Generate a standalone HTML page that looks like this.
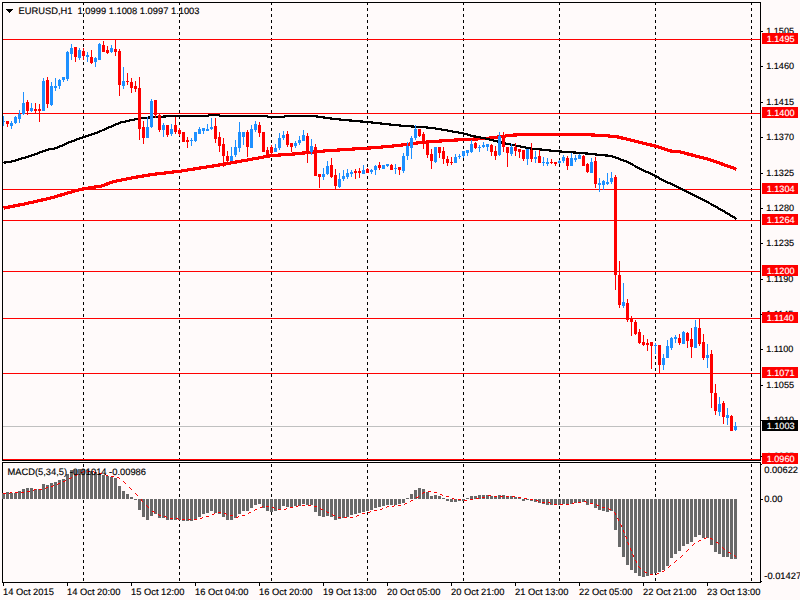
<!DOCTYPE html>
<html><head><meta charset="utf-8"><title>EURUSD,H1</title>
<style>html,body{margin:0;padding:0;background:#FFFAFA;overflow:hidden}svg{display:block}</style>
</head><body>
<svg width="800" height="600" viewBox="0 0 800 600" shape-rendering="crispEdges">
<rect x="0" y="0" width="800" height="600" fill="#FFFAFA"/>
<path d="M83.5 2V460M179.5 2V460M271.5 2V460M367.5 2V460M463.5 2V460M559.5 2V460M655.5 2V460M751.5 2V460" stroke="#000" stroke-width="1" stroke-dasharray="3 3" fill="none"/>
<path d="M83.5 464V582M179.5 464V582M271.5 464V582M367.5 464V582M463.5 464V582M559.5 464V582M655.5 464V582M751.5 464V582" stroke="#000" stroke-width="1" stroke-dasharray="3 3" fill="none"/>
<rect x="3" y="426" width="757" height="1" fill="#C0C0C0"/>
<rect x="3" y="39" width="757" height="1" fill="#FF0000"/>
<rect x="3" y="113" width="757" height="1" fill="#FF0000"/>
<rect x="3" y="189" width="757" height="1" fill="#FF0000"/>
<rect x="3" y="220" width="757" height="1" fill="#FF0000"/>
<rect x="3" y="271" width="757" height="1" fill="#FF0000"/>
<rect x="3" y="318" width="757" height="1" fill="#FF0000"/>
<rect x="3" y="373" width="757" height="1" fill="#FF0000"/>
<rect x="3" y="459" width="757" height="1" fill="#FF0000"/>
<polyline points="3.5,208.1 25.5,203.75 50.5,198.1 63.0,194.4 80.5,189.4 95.5,186.9 100.5,186.5 112.5,181.9 134.0,177.5 152.5,174.4 180.0,171.25 196.5,168.6 223.5,164.3 271.5,155.6 292.5,154.1 326.0,150.8 368.0,148.1 388.5,146.5 400.5,145.2 422.0,142.4 440.5,141 464.0,139.5 484.5,138.6 499.25,136.9 510.5,135.25 526.5,134.4 580.5,134.4 605.25,135.6 617.5,136.9 639.0,142.1 656.0,146.25 664.5,149 670.25,151 679.5,151.8 709.5,159.5 736.5,169.2" fill="none" stroke="#FF0000" stroke-width="3.2" stroke-linejoin="round"/>
<polyline points="3.5,162.75 13.0,161.25 31.5,155.6 47.5,149.75 56.5,148.1 68.0,142.75 83.5,137 96.5,132.9 120.5,122.5 138.0,118.75 144.5,118 148.5,117.5 156.5,117 164.5,116.5 170.5,116 207.5,116 209.0,115.1 219.0,115.1 220.5,116 266.5,116 268.0,116.9 284.0,116.9 285.5,116 313.5,116 320.5,117 335.5,119.1 351.5,120.6 368.0,122.1 388.5,124.3 400.5,125.6 412.5,126.5 424.5,127.2 435.5,128.5 447.5,130.5 464.0,133.6 472.5,136 484.5,138.3 505.5,143.5 530.5,148.5 560.0,151.5 580.5,152.9 595.25,154.4 611.5,156 626.5,161.6 641.5,169.4 656.0,176.25 666.5,182.2 672.0,184.2 682.5,189.5 706.5,201.5 724.5,211.7 736.5,218.9" fill="none" stroke="#000" stroke-width="2.2" stroke-linejoin="round"/>
<rect x="3" y="116" width="1" height="10" fill="#1E90FF"/>
<rect x="2" y="121" width="3" height="1" fill="#1E90FF"/>
<rect x="7" y="121" width="1" height="6" fill="#FF0000"/>
<rect x="6" y="121" width="3" height="3" fill="#FF0000"/>
<rect x="11" y="121" width="1" height="8" fill="#1E90FF"/>
<rect x="10" y="123" width="3" height="3" fill="#1E90FF"/>
<rect x="15" y="116" width="1" height="8" fill="#1E90FF"/>
<rect x="14" y="117" width="3" height="6" fill="#1E90FF"/>
<rect x="19" y="110" width="1" height="13" fill="#1E90FF"/>
<rect x="18" y="114" width="3" height="5" fill="#1E90FF"/>
<rect x="23" y="92" width="1" height="23" fill="#1E90FF"/>
<rect x="22" y="103" width="3" height="11" fill="#1E90FF"/>
<rect x="27" y="100" width="1" height="15" fill="#FF0000"/>
<rect x="26" y="102" width="3" height="9" fill="#FF0000"/>
<rect x="31" y="103" width="1" height="9" fill="#1E90FF"/>
<rect x="30" y="108" width="3" height="3" fill="#1E90FF"/>
<rect x="35" y="103" width="1" height="11" fill="#FF0000"/>
<rect x="34" y="109" width="3" height="2" fill="#FF0000"/>
<rect x="39" y="104" width="1" height="18" fill="#FF0000"/>
<rect x="38" y="109" width="3" height="2" fill="#FF0000"/>
<rect x="43" y="78" width="1" height="33" fill="#1E90FF"/>
<rect x="42" y="81" width="3" height="30" fill="#1E90FF"/>
<rect x="47" y="77" width="1" height="31" fill="#FF0000"/>
<rect x="46" y="80" width="3" height="24" fill="#FF0000"/>
<rect x="51" y="82" width="1" height="24" fill="#1E90FF"/>
<rect x="50" y="86" width="3" height="19" fill="#1E90FF"/>
<rect x="55" y="78" width="1" height="13" fill="#1E90FF"/>
<rect x="54" y="86" width="3" height="2" fill="#1E90FF"/>
<rect x="59" y="79" width="1" height="10" fill="#1E90FF"/>
<rect x="58" y="80" width="3" height="6" fill="#1E90FF"/>
<rect x="63" y="77" width="1" height="5" fill="#1E90FF"/>
<rect x="62" y="77" width="3" height="3" fill="#1E90FF"/>
<rect x="67" y="51" width="1" height="30" fill="#1E90FF"/>
<rect x="66" y="52" width="3" height="27" fill="#1E90FF"/>
<rect x="71" y="44" width="1" height="16" fill="#1E90FF"/>
<rect x="70" y="48" width="3" height="6" fill="#1E90FF"/>
<rect x="75" y="47" width="1" height="15" fill="#FF0000"/>
<rect x="74" y="47" width="3" height="10" fill="#FF0000"/>
<rect x="79" y="48" width="1" height="12" fill="#1E90FF"/>
<rect x="78" y="50" width="3" height="8" fill="#1E90FF"/>
<rect x="83" y="48" width="1" height="12" fill="#FF0000"/>
<rect x="82" y="51" width="3" height="5" fill="#FF0000"/>
<rect x="87" y="52" width="1" height="10" fill="#1E90FF"/>
<rect x="86" y="55" width="3" height="2" fill="#1E90FF"/>
<rect x="91" y="50" width="1" height="14" fill="#FF0000"/>
<rect x="90" y="57" width="3" height="6" fill="#FF0000"/>
<rect x="95" y="57" width="1" height="10" fill="#1E90FF"/>
<rect x="94" y="58" width="3" height="4" fill="#1E90FF"/>
<rect x="99" y="43" width="1" height="17" fill="#1E90FF"/>
<rect x="98" y="44" width="3" height="16" fill="#1E90FF"/>
<rect x="103" y="41" width="1" height="11" fill="#FF0000"/>
<rect x="102" y="45" width="3" height="7" fill="#FF0000"/>
<rect x="107" y="46" width="1" height="8" fill="#FF0000"/>
<rect x="106" y="50" width="3" height="3" fill="#FF0000"/>
<rect x="111" y="45" width="1" height="8" fill="#1E90FF"/>
<rect x="110" y="48" width="3" height="4" fill="#1E90FF"/>
<rect x="115" y="40" width="1" height="16" fill="#FF0000"/>
<rect x="114" y="49" width="3" height="3" fill="#FF0000"/>
<rect x="119" y="49" width="1" height="47" fill="#FF0000"/>
<rect x="118" y="51" width="3" height="34" fill="#FF0000"/>
<rect x="123" y="67" width="1" height="22" fill="#1E90FF"/>
<rect x="122" y="81" width="3" height="5" fill="#1E90FF"/>
<rect x="127" y="73" width="1" height="12" fill="#FF0000"/>
<rect x="126" y="81" width="3" height="1" fill="#FF0000"/>
<rect x="131" y="78" width="1" height="15" fill="#FF0000"/>
<rect x="130" y="82" width="3" height="6" fill="#FF0000"/>
<rect x="135" y="81" width="1" height="11" fill="#FF0000"/>
<rect x="134" y="86" width="3" height="3" fill="#FF0000"/>
<rect x="139" y="77" width="1" height="63" fill="#FF0000"/>
<rect x="138" y="88" width="3" height="41" fill="#FF0000"/>
<rect x="143" y="121" width="1" height="23" fill="#FF0000"/>
<rect x="142" y="127" width="3" height="11" fill="#FF0000"/>
<rect x="147" y="117" width="1" height="21" fill="#1E90FF"/>
<rect x="146" y="127" width="3" height="11" fill="#1E90FF"/>
<rect x="151" y="99" width="1" height="29" fill="#1E90FF"/>
<rect x="150" y="101" width="3" height="26" fill="#1E90FF"/>
<rect x="155" y="100" width="1" height="18" fill="#FF0000"/>
<rect x="154" y="100" width="3" height="15" fill="#FF0000"/>
<rect x="159" y="114" width="1" height="18" fill="#FF0000"/>
<rect x="158" y="115" width="3" height="15" fill="#FF0000"/>
<rect x="163" y="123" width="1" height="14" fill="#1E90FF"/>
<rect x="162" y="125" width="3" height="5" fill="#1E90FF"/>
<rect x="167" y="125" width="1" height="12" fill="#FF0000"/>
<rect x="166" y="125" width="3" height="10" fill="#FF0000"/>
<rect x="171" y="124" width="1" height="12" fill="#1E90FF"/>
<rect x="170" y="129" width="3" height="5" fill="#1E90FF"/>
<rect x="175" y="117" width="1" height="17" fill="#FF0000"/>
<rect x="174" y="125" width="3" height="7" fill="#FF0000"/>
<rect x="179" y="128" width="1" height="8" fill="#FF0000"/>
<rect x="178" y="130" width="3" height="4" fill="#FF0000"/>
<rect x="183" y="132" width="1" height="10" fill="#FF0000"/>
<rect x="182" y="132" width="3" height="10" fill="#FF0000"/>
<rect x="187" y="137" width="1" height="11" fill="#FF0000"/>
<rect x="186" y="140" width="3" height="2" fill="#FF0000"/>
<rect x="191" y="138" width="1" height="8" fill="#1E90FF"/>
<rect x="190" y="140" width="3" height="1" fill="#1E90FF"/>
<rect x="195" y="132" width="1" height="10" fill="#1E90FF"/>
<rect x="194" y="132" width="3" height="9" fill="#1E90FF"/>
<rect x="199" y="127" width="1" height="7" fill="#1E90FF"/>
<rect x="198" y="129" width="3" height="5" fill="#1E90FF"/>
<rect x="203" y="128" width="1" height="6" fill="#1E90FF"/>
<rect x="202" y="128" width="3" height="3" fill="#1E90FF"/>
<rect x="207" y="124" width="1" height="7" fill="#1E90FF"/>
<rect x="206" y="129" width="3" height="2" fill="#1E90FF"/>
<rect x="211" y="118" width="1" height="12" fill="#1E90FF"/>
<rect x="210" y="127" width="3" height="2" fill="#1E90FF"/>
<rect x="215" y="118" width="1" height="25" fill="#FF0000"/>
<rect x="214" y="126" width="3" height="13" fill="#FF0000"/>
<rect x="219" y="132" width="1" height="20" fill="#FF0000"/>
<rect x="218" y="137" width="3" height="9" fill="#FF0000"/>
<rect x="223" y="138" width="1" height="29" fill="#FF0000"/>
<rect x="222" y="144" width="3" height="12" fill="#FF0000"/>
<rect x="227" y="151" width="1" height="14" fill="#FF0000"/>
<rect x="226" y="156" width="3" height="5" fill="#FF0000"/>
<rect x="231" y="147" width="1" height="14" fill="#1E90FF"/>
<rect x="230" y="156" width="3" height="5" fill="#1E90FF"/>
<rect x="235" y="140" width="1" height="17" fill="#1E90FF"/>
<rect x="234" y="147" width="3" height="8" fill="#1E90FF"/>
<rect x="239" y="122" width="1" height="30" fill="#1E90FF"/>
<rect x="238" y="132" width="3" height="16" fill="#1E90FF"/>
<rect x="243" y="132" width="1" height="13" fill="#1E90FF"/>
<rect x="242" y="132" width="3" height="5" fill="#1E90FF"/>
<rect x="247" y="130" width="1" height="27" fill="#FF0000"/>
<rect x="246" y="132" width="3" height="15" fill="#FF0000"/>
<rect x="251" y="125" width="1" height="23" fill="#1E90FF"/>
<rect x="250" y="129" width="3" height="19" fill="#1E90FF"/>
<rect x="255" y="121" width="1" height="11" fill="#1E90FF"/>
<rect x="254" y="124" width="3" height="6" fill="#1E90FF"/>
<rect x="259" y="122" width="1" height="15" fill="#FF0000"/>
<rect x="258" y="125" width="3" height="8" fill="#FF0000"/>
<rect x="263" y="132" width="1" height="20" fill="#FF0000"/>
<rect x="262" y="132" width="3" height="20" fill="#FF0000"/>
<rect x="267" y="147" width="1" height="9" fill="#FF0000"/>
<rect x="266" y="150" width="3" height="5" fill="#FF0000"/>
<rect x="271" y="145" width="1" height="9" fill="#FF0000"/>
<rect x="270" y="147" width="3" height="6" fill="#FF0000"/>
<rect x="275" y="144" width="1" height="8" fill="#1E90FF"/>
<rect x="274" y="148" width="3" height="4" fill="#1E90FF"/>
<rect x="279" y="133" width="1" height="17" fill="#1E90FF"/>
<rect x="278" y="138" width="3" height="10" fill="#1E90FF"/>
<rect x="283" y="131" width="1" height="9" fill="#1E90FF"/>
<rect x="282" y="135" width="3" height="3" fill="#1E90FF"/>
<rect x="287" y="131" width="1" height="16" fill="#FF0000"/>
<rect x="286" y="134" width="3" height="11" fill="#FF0000"/>
<rect x="291" y="143" width="1" height="9" fill="#FF0000"/>
<rect x="290" y="143" width="3" height="4" fill="#FF0000"/>
<rect x="295" y="141" width="1" height="7" fill="#1E90FF"/>
<rect x="294" y="143" width="3" height="3" fill="#1E90FF"/>
<rect x="299" y="136" width="1" height="9" fill="#1E90FF"/>
<rect x="298" y="140" width="3" height="3" fill="#1E90FF"/>
<rect x="303" y="130" width="1" height="11" fill="#1E90FF"/>
<rect x="302" y="135" width="3" height="6" fill="#1E90FF"/>
<rect x="307" y="133" width="1" height="30" fill="#FF0000"/>
<rect x="306" y="136" width="3" height="17" fill="#FF0000"/>
<rect x="311" y="139" width="1" height="16" fill="#1E90FF"/>
<rect x="310" y="146" width="3" height="6" fill="#1E90FF"/>
<rect x="315" y="144" width="1" height="32" fill="#FF0000"/>
<rect x="314" y="147" width="3" height="29" fill="#FF0000"/>
<rect x="319" y="174" width="1" height="14" fill="#FF0000"/>
<rect x="318" y="174" width="3" height="3" fill="#FF0000"/>
<rect x="323" y="168" width="1" height="12" fill="#1E90FF"/>
<rect x="322" y="174" width="3" height="3" fill="#1E90FF"/>
<rect x="327" y="161" width="1" height="14" fill="#1E90FF"/>
<rect x="326" y="166" width="3" height="8" fill="#1E90FF"/>
<rect x="331" y="158" width="1" height="20" fill="#FF0000"/>
<rect x="330" y="165" width="3" height="12" fill="#FF0000"/>
<rect x="335" y="169" width="1" height="20" fill="#FF0000"/>
<rect x="334" y="175" width="3" height="11" fill="#FF0000"/>
<rect x="339" y="173" width="1" height="15" fill="#1E90FF"/>
<rect x="338" y="179" width="3" height="8" fill="#1E90FF"/>
<rect x="343" y="170" width="1" height="11" fill="#1E90FF"/>
<rect x="342" y="176" width="3" height="3" fill="#1E90FF"/>
<rect x="347" y="169" width="1" height="10" fill="#1E90FF"/>
<rect x="346" y="173" width="3" height="4" fill="#1E90FF"/>
<rect x="351" y="170" width="1" height="7" fill="#1E90FF"/>
<rect x="350" y="172" width="3" height="2" fill="#1E90FF"/>
<rect x="355" y="169" width="1" height="10" fill="#FF0000"/>
<rect x="354" y="171" width="3" height="2" fill="#FF0000"/>
<rect x="359" y="168" width="1" height="10" fill="#FF0000"/>
<rect x="358" y="171" width="3" height="2" fill="#FF0000"/>
<rect x="363" y="165" width="1" height="9" fill="#1E90FF"/>
<rect x="362" y="170" width="3" height="4" fill="#1E90FF"/>
<rect x="367" y="168" width="1" height="5" fill="#FF0000"/>
<rect x="366" y="169" width="3" height="4" fill="#FF0000"/>
<rect x="371" y="169" width="1" height="5" fill="#1E90FF"/>
<rect x="370" y="170" width="3" height="2" fill="#1E90FF"/>
<rect x="375" y="165" width="1" height="10" fill="#1E90FF"/>
<rect x="374" y="166" width="3" height="4" fill="#1E90FF"/>
<rect x="379" y="162" width="1" height="8" fill="#FF0000"/>
<rect x="378" y="165" width="3" height="3" fill="#FF0000"/>
<rect x="383" y="165" width="1" height="4" fill="#1E90FF"/>
<rect x="382" y="165" width="3" height="4" fill="#1E90FF"/>
<rect x="387" y="164" width="1" height="3" fill="#1E90FF"/>
<rect x="386" y="164" width="3" height="2" fill="#1E90FF"/>
<rect x="391" y="164" width="1" height="6" fill="#FF0000"/>
<rect x="390" y="165" width="3" height="5" fill="#FF0000"/>
<rect x="395" y="164" width="1" height="10" fill="#1E90FF"/>
<rect x="394" y="168" width="3" height="1" fill="#1E90FF"/>
<rect x="399" y="167" width="1" height="8" fill="#FF0000"/>
<rect x="398" y="167" width="3" height="3" fill="#FF0000"/>
<rect x="403" y="153" width="1" height="20" fill="#1E90FF"/>
<rect x="402" y="156" width="3" height="15" fill="#1E90FF"/>
<rect x="407" y="142" width="1" height="18" fill="#1E90FF"/>
<rect x="406" y="146" width="3" height="10" fill="#1E90FF"/>
<rect x="411" y="136" width="1" height="23" fill="#1E90FF"/>
<rect x="410" y="138" width="3" height="10" fill="#1E90FF"/>
<rect x="415" y="125" width="1" height="15" fill="#1E90FF"/>
<rect x="414" y="129" width="3" height="9" fill="#1E90FF"/>
<rect x="419" y="129" width="1" height="8" fill="#FF0000"/>
<rect x="418" y="129" width="3" height="7" fill="#FF0000"/>
<rect x="423" y="132" width="1" height="17" fill="#FF0000"/>
<rect x="422" y="134" width="3" height="9" fill="#FF0000"/>
<rect x="427" y="140" width="1" height="18" fill="#FF0000"/>
<rect x="426" y="142" width="3" height="13" fill="#FF0000"/>
<rect x="431" y="149" width="1" height="20" fill="#FF0000"/>
<rect x="430" y="154" width="3" height="7" fill="#FF0000"/>
<rect x="435" y="147" width="1" height="16" fill="#1E90FF"/>
<rect x="434" y="147" width="3" height="15" fill="#1E90FF"/>
<rect x="439" y="147" width="1" height="11" fill="#FF0000"/>
<rect x="438" y="147" width="3" height="6" fill="#FF0000"/>
<rect x="443" y="147" width="1" height="17" fill="#FF0000"/>
<rect x="442" y="151" width="3" height="8" fill="#FF0000"/>
<rect x="447" y="156" width="1" height="10" fill="#FF0000"/>
<rect x="446" y="159" width="3" height="4" fill="#FF0000"/>
<rect x="451" y="157" width="1" height="8" fill="#FF0000"/>
<rect x="450" y="162" width="3" height="1" fill="#FF0000"/>
<rect x="455" y="154" width="1" height="9" fill="#1E90FF"/>
<rect x="454" y="157" width="3" height="6" fill="#1E90FF"/>
<rect x="459" y="154" width="1" height="5" fill="#1E90FF"/>
<rect x="458" y="156" width="3" height="1" fill="#1E90FF"/>
<rect x="463" y="151" width="1" height="7" fill="#1E90FF"/>
<rect x="462" y="151" width="3" height="5" fill="#1E90FF"/>
<rect x="467" y="150" width="1" height="6" fill="#1E90FF"/>
<rect x="466" y="150" width="3" height="3" fill="#1E90FF"/>
<rect x="471" y="140" width="1" height="13" fill="#1E90FF"/>
<rect x="470" y="144" width="3" height="8" fill="#1E90FF"/>
<rect x="475" y="142" width="1" height="7" fill="#FF0000"/>
<rect x="474" y="143" width="3" height="5" fill="#FF0000"/>
<rect x="479" y="145" width="1" height="7" fill="#1E90FF"/>
<rect x="478" y="147" width="3" height="1" fill="#1E90FF"/>
<rect x="483" y="142" width="1" height="6" fill="#1E90FF"/>
<rect x="482" y="145" width="3" height="2" fill="#1E90FF"/>
<rect x="487" y="144" width="1" height="7" fill="#1E90FF"/>
<rect x="486" y="144" width="3" height="3" fill="#1E90FF"/>
<rect x="491" y="144" width="1" height="12" fill="#FF0000"/>
<rect x="490" y="145" width="3" height="7" fill="#FF0000"/>
<rect x="495" y="146" width="1" height="14" fill="#FF0000"/>
<rect x="494" y="151" width="3" height="5" fill="#FF0000"/>
<rect x="499" y="132" width="1" height="24" fill="#1E90FF"/>
<rect x="498" y="136" width="3" height="19" fill="#1E90FF"/>
<rect x="503" y="132" width="1" height="20" fill="#FF0000"/>
<rect x="502" y="136" width="3" height="11" fill="#FF0000"/>
<rect x="507" y="147" width="1" height="20" fill="#FF0000"/>
<rect x="506" y="147" width="3" height="6" fill="#FF0000"/>
<rect x="511" y="144" width="1" height="12" fill="#1E90FF"/>
<rect x="510" y="147" width="3" height="7" fill="#1E90FF"/>
<rect x="515" y="143" width="1" height="13" fill="#FF0000"/>
<rect x="514" y="147" width="3" height="4" fill="#FF0000"/>
<rect x="519" y="149" width="1" height="9" fill="#FF0000"/>
<rect x="518" y="149" width="3" height="3" fill="#FF0000"/>
<rect x="523" y="150" width="1" height="11" fill="#FF0000"/>
<rect x="522" y="150" width="3" height="9" fill="#FF0000"/>
<rect x="527" y="149" width="1" height="16" fill="#1E90FF"/>
<rect x="526" y="149" width="3" height="10" fill="#1E90FF"/>
<rect x="531" y="143" width="1" height="19" fill="#FF0000"/>
<rect x="530" y="150" width="3" height="9" fill="#FF0000"/>
<rect x="535" y="151" width="1" height="12" fill="#1E90FF"/>
<rect x="534" y="157" width="3" height="2" fill="#1E90FF"/>
<rect x="539" y="150" width="1" height="13" fill="#FF0000"/>
<rect x="538" y="156" width="3" height="7" fill="#FF0000"/>
<rect x="543" y="157" width="1" height="9" fill="#1E90FF"/>
<rect x="542" y="162" width="3" height="1" fill="#1E90FF"/>
<rect x="547" y="158" width="1" height="8" fill="#1E90FF"/>
<rect x="546" y="162" width="3" height="2" fill="#1E90FF"/>
<rect x="551" y="159" width="1" height="5" fill="#FF0000"/>
<rect x="550" y="162" width="3" height="1" fill="#FF0000"/>
<rect x="555" y="162" width="1" height="4" fill="#FF0000"/>
<rect x="554" y="162" width="3" height="2" fill="#FF0000"/>
<rect x="559" y="160" width="1" height="4" fill="#1E90FF"/>
<rect x="558" y="161" width="3" height="2" fill="#1E90FF"/>
<rect x="563" y="155" width="1" height="8" fill="#1E90FF"/>
<rect x="562" y="157" width="3" height="4" fill="#1E90FF"/>
<rect x="567" y="156" width="1" height="14" fill="#FF0000"/>
<rect x="566" y="158" width="3" height="8" fill="#FF0000"/>
<rect x="571" y="153" width="1" height="13" fill="#1E90FF"/>
<rect x="570" y="158" width="3" height="8" fill="#1E90FF"/>
<rect x="575" y="155" width="1" height="7" fill="#1E90FF"/>
<rect x="574" y="158" width="3" height="2" fill="#1E90FF"/>
<rect x="579" y="154" width="1" height="5" fill="#1E90FF"/>
<rect x="578" y="155" width="3" height="4" fill="#1E90FF"/>
<rect x="583" y="155" width="1" height="11" fill="#FF0000"/>
<rect x="582" y="156" width="3" height="10" fill="#FF0000"/>
<rect x="587" y="163" width="1" height="10" fill="#FF0000"/>
<rect x="586" y="164" width="3" height="8" fill="#FF0000"/>
<rect x="591" y="158" width="1" height="15" fill="#1E90FF"/>
<rect x="590" y="162" width="3" height="11" fill="#1E90FF"/>
<rect x="595" y="157" width="1" height="31" fill="#FF0000"/>
<rect x="594" y="161" width="3" height="23" fill="#FF0000"/>
<rect x="599" y="178" width="1" height="14" fill="#1E90FF"/>
<rect x="598" y="183" width="3" height="2" fill="#1E90FF"/>
<rect x="603" y="180" width="1" height="10" fill="#1E90FF"/>
<rect x="602" y="181" width="3" height="4" fill="#1E90FF"/>
<rect x="607" y="173" width="1" height="12" fill="#1E90FF"/>
<rect x="606" y="182" width="3" height="2" fill="#1E90FF"/>
<rect x="611" y="172" width="1" height="12" fill="#1E90FF"/>
<rect x="610" y="178" width="3" height="4" fill="#1E90FF"/>
<rect x="615" y="175" width="1" height="115" fill="#FF0000"/>
<rect x="614" y="177" width="3" height="98" fill="#FF0000"/>
<rect x="619" y="261" width="1" height="47" fill="#FF0000"/>
<rect x="618" y="275" width="3" height="30" fill="#FF0000"/>
<rect x="623" y="283" width="1" height="25" fill="#1E90FF"/>
<rect x="622" y="302" width="3" height="4" fill="#1E90FF"/>
<rect x="627" y="299" width="1" height="23" fill="#FF0000"/>
<rect x="626" y="303" width="3" height="17" fill="#FF0000"/>
<rect x="631" y="316" width="1" height="20" fill="#FF0000"/>
<rect x="630" y="318" width="3" height="4" fill="#FF0000"/>
<rect x="635" y="320" width="1" height="15" fill="#FF0000"/>
<rect x="634" y="322" width="3" height="12" fill="#FF0000"/>
<rect x="639" y="329" width="1" height="15" fill="#FF0000"/>
<rect x="638" y="332" width="3" height="11" fill="#FF0000"/>
<rect x="643" y="335" width="1" height="11" fill="#FF0000"/>
<rect x="642" y="342" width="3" height="3" fill="#FF0000"/>
<rect x="647" y="339" width="1" height="12" fill="#FF0000"/>
<rect x="646" y="343" width="3" height="2" fill="#FF0000"/>
<rect x="651" y="342" width="1" height="27" fill="#FF0000"/>
<rect x="650" y="342" width="3" height="4" fill="#FF0000"/>
<rect x="655" y="343" width="1" height="11" fill="#1E90FF"/>
<rect x="654" y="345" width="3" height="1" fill="#1E90FF"/>
<rect x="659" y="345" width="1" height="29" fill="#FF0000"/>
<rect x="658" y="345" width="3" height="20" fill="#FF0000"/>
<rect x="663" y="354" width="1" height="16" fill="#1E90FF"/>
<rect x="662" y="358" width="3" height="7" fill="#1E90FF"/>
<rect x="667" y="340" width="1" height="18" fill="#1E90FF"/>
<rect x="666" y="346" width="3" height="12" fill="#1E90FF"/>
<rect x="671" y="337" width="1" height="13" fill="#1E90FF"/>
<rect x="670" y="338" width="3" height="10" fill="#1E90FF"/>
<rect x="675" y="335" width="1" height="8" fill="#1E90FF"/>
<rect x="674" y="337" width="3" height="2" fill="#1E90FF"/>
<rect x="679" y="334" width="1" height="11" fill="#FF0000"/>
<rect x="678" y="338" width="3" height="5" fill="#FF0000"/>
<rect x="683" y="331" width="1" height="13" fill="#1E90FF"/>
<rect x="682" y="332" width="3" height="12" fill="#1E90FF"/>
<rect x="687" y="332" width="1" height="16" fill="#FF0000"/>
<rect x="686" y="333" width="3" height="8" fill="#FF0000"/>
<rect x="691" y="328" width="1" height="30" fill="#FF0000"/>
<rect x="690" y="339" width="3" height="8" fill="#FF0000"/>
<rect x="695" y="320" width="1" height="28" fill="#1E90FF"/>
<rect x="694" y="327" width="3" height="21" fill="#1E90FF"/>
<rect x="699" y="318" width="1" height="28" fill="#FF0000"/>
<rect x="698" y="328" width="3" height="16" fill="#FF0000"/>
<rect x="703" y="334" width="1" height="26" fill="#FF0000"/>
<rect x="702" y="342" width="3" height="16" fill="#FF0000"/>
<rect x="707" y="344" width="1" height="24" fill="#1E90FF"/>
<rect x="706" y="355" width="3" height="3" fill="#1E90FF"/>
<rect x="711" y="350" width="1" height="58" fill="#FF0000"/>
<rect x="710" y="354" width="3" height="39" fill="#FF0000"/>
<rect x="715" y="384" width="1" height="31" fill="#FF0000"/>
<rect x="714" y="393" width="3" height="18" fill="#FF0000"/>
<rect x="719" y="397" width="1" height="19" fill="#1E90FF"/>
<rect x="718" y="404" width="3" height="8" fill="#1E90FF"/>
<rect x="723" y="401" width="1" height="23" fill="#FF0000"/>
<rect x="722" y="403" width="3" height="14" fill="#FF0000"/>
<rect x="727" y="408" width="1" height="17" fill="#1E90FF"/>
<rect x="726" y="415" width="3" height="3" fill="#1E90FF"/>
<rect x="731" y="415" width="1" height="16" fill="#FF0000"/>
<rect x="730" y="416" width="3" height="15" fill="#FF0000"/>
<rect x="735" y="422" width="1" height="9" fill="#1E90FF"/>
<rect x="734" y="426" width="3" height="4" fill="#1E90FF"/>
<rect x="2" y="2" width="759" height="1" fill="#000"/>
<rect x="2" y="460" width="759" height="1" fill="#000"/>
<rect x="2" y="2" width="1" height="459" fill="#000"/>
<rect x="760" y="2" width="1" height="459" fill="#000"/>
<rect x="2" y="462" width="759" height="1" fill="#000"/>
<rect x="2" y="582" width="759" height="1" fill="#000"/>
<rect x="2" y="462" width="1" height="121" fill="#000"/>
<rect x="760" y="462" width="1" height="121" fill="#000"/>
<rect x="2" y="493" width="3" height="6" fill="#696969"/>
<rect x="6" y="492" width="3" height="7" fill="#696969"/>
<rect x="10" y="493" width="3" height="6" fill="#696969"/>
<rect x="14" y="493" width="3" height="6" fill="#696969"/>
<rect x="18" y="491" width="3" height="8" fill="#696969"/>
<rect x="22" y="489" width="3" height="10" fill="#696969"/>
<rect x="26" y="488" width="3" height="11" fill="#696969"/>
<rect x="30" y="488" width="3" height="11" fill="#696969"/>
<rect x="34" y="489" width="3" height="10" fill="#696969"/>
<rect x="38" y="489" width="3" height="10" fill="#696969"/>
<rect x="42" y="484" width="3" height="15" fill="#696969"/>
<rect x="46" y="485" width="3" height="14" fill="#696969"/>
<rect x="50" y="483" width="3" height="16" fill="#696969"/>
<rect x="54" y="482" width="3" height="17" fill="#696969"/>
<rect x="58" y="480" width="3" height="19" fill="#696969"/>
<rect x="62" y="479" width="3" height="20" fill="#696969"/>
<rect x="66" y="474" width="3" height="25" fill="#696969"/>
<rect x="70" y="470" width="3" height="29" fill="#696969"/>
<rect x="74" y="470" width="3" height="29" fill="#696969"/>
<rect x="78" y="469" width="3" height="30" fill="#696969"/>
<rect x="82" y="469" width="3" height="30" fill="#696969"/>
<rect x="86" y="470" width="3" height="29" fill="#696969"/>
<rect x="90" y="471" width="3" height="28" fill="#696969"/>
<rect x="94" y="472" width="3" height="27" fill="#696969"/>
<rect x="98" y="474" width="3" height="25" fill="#696969"/>
<rect x="102" y="475" width="3" height="24" fill="#696969"/>
<rect x="106" y="476" width="3" height="23" fill="#696969"/>
<rect x="110" y="477" width="3" height="22" fill="#696969"/>
<rect x="114" y="478" width="3" height="21" fill="#696969"/>
<rect x="118" y="486" width="3" height="13" fill="#696969"/>
<rect x="122" y="491" width="3" height="8" fill="#696969"/>
<rect x="126" y="494" width="3" height="5" fill="#696969"/>
<rect x="130" y="497" width="3" height="2" fill="#696969"/>
<rect x="134" y="499" width="3" height="1" fill="#696969"/>
<rect x="138" y="499" width="3" height="11" fill="#696969"/>
<rect x="142" y="499" width="3" height="18" fill="#696969"/>
<rect x="146" y="499" width="3" height="21" fill="#696969"/>
<rect x="150" y="499" width="3" height="17" fill="#696969"/>
<rect x="154" y="499" width="3" height="15" fill="#696969"/>
<rect x="158" y="499" width="3" height="19" fill="#696969"/>
<rect x="162" y="499" width="3" height="19" fill="#696969"/>
<rect x="166" y="499" width="3" height="21" fill="#696969"/>
<rect x="170" y="499" width="3" height="21" fill="#696969"/>
<rect x="174" y="499" width="3" height="21" fill="#696969"/>
<rect x="178" y="499" width="3" height="21" fill="#696969"/>
<rect x="182" y="499" width="3" height="22" fill="#696969"/>
<rect x="186" y="499" width="3" height="22" fill="#696969"/>
<rect x="190" y="499" width="3" height="22" fill="#696969"/>
<rect x="194" y="499" width="3" height="20" fill="#696969"/>
<rect x="198" y="499" width="3" height="18" fill="#696969"/>
<rect x="202" y="499" width="3" height="15" fill="#696969"/>
<rect x="206" y="499" width="3" height="14" fill="#696969"/>
<rect x="210" y="499" width="3" height="12" fill="#696969"/>
<rect x="214" y="499" width="3" height="14" fill="#696969"/>
<rect x="218" y="499" width="3" height="15" fill="#696969"/>
<rect x="222" y="499" width="3" height="18" fill="#696969"/>
<rect x="226" y="499" width="3" height="21" fill="#696969"/>
<rect x="230" y="499" width="3" height="21" fill="#696969"/>
<rect x="234" y="499" width="3" height="19" fill="#696969"/>
<rect x="238" y="499" width="3" height="15" fill="#696969"/>
<rect x="242" y="499" width="3" height="12" fill="#696969"/>
<rect x="246" y="499" width="3" height="12" fill="#696969"/>
<rect x="250" y="499" width="3" height="9" fill="#696969"/>
<rect x="254" y="499" width="3" height="6" fill="#696969"/>
<rect x="258" y="499" width="3" height="5" fill="#696969"/>
<rect x="262" y="499" width="3" height="9" fill="#696969"/>
<rect x="266" y="499" width="3" height="12" fill="#696969"/>
<rect x="270" y="499" width="3" height="13" fill="#696969"/>
<rect x="274" y="499" width="3" height="12" fill="#696969"/>
<rect x="278" y="499" width="3" height="10" fill="#696969"/>
<rect x="282" y="499" width="3" height="7" fill="#696969"/>
<rect x="286" y="499" width="3" height="8" fill="#696969"/>
<rect x="290" y="499" width="3" height="8" fill="#696969"/>
<rect x="294" y="499" width="3" height="7" fill="#696969"/>
<rect x="298" y="499" width="3" height="7" fill="#696969"/>
<rect x="302" y="499" width="3" height="5" fill="#696969"/>
<rect x="306" y="499" width="3" height="6" fill="#696969"/>
<rect x="310" y="499" width="3" height="6" fill="#696969"/>
<rect x="314" y="499" width="3" height="13" fill="#696969"/>
<rect x="318" y="499" width="3" height="17" fill="#696969"/>
<rect x="322" y="499" width="3" height="18" fill="#696969"/>
<rect x="326" y="499" width="3" height="17" fill="#696969"/>
<rect x="330" y="499" width="3" height="18" fill="#696969"/>
<rect x="334" y="499" width="3" height="21" fill="#696969"/>
<rect x="338" y="499" width="3" height="20" fill="#696969"/>
<rect x="342" y="499" width="3" height="19" fill="#696969"/>
<rect x="346" y="499" width="3" height="18" fill="#696969"/>
<rect x="350" y="499" width="3" height="16" fill="#696969"/>
<rect x="354" y="499" width="3" height="15" fill="#696969"/>
<rect x="358" y="499" width="3" height="14" fill="#696969"/>
<rect x="362" y="499" width="3" height="13" fill="#696969"/>
<rect x="366" y="499" width="3" height="12" fill="#696969"/>
<rect x="370" y="499" width="3" height="11" fill="#696969"/>
<rect x="374" y="499" width="3" height="9" fill="#696969"/>
<rect x="378" y="499" width="3" height="8" fill="#696969"/>
<rect x="382" y="499" width="3" height="7" fill="#696969"/>
<rect x="386" y="499" width="3" height="6" fill="#696969"/>
<rect x="390" y="499" width="3" height="6" fill="#696969"/>
<rect x="394" y="499" width="3" height="6" fill="#696969"/>
<rect x="398" y="499" width="3" height="5" fill="#696969"/>
<rect x="402" y="499" width="3" height="4" fill="#696969"/>
<rect x="406" y="498" width="3" height="1" fill="#696969"/>
<rect x="410" y="494" width="3" height="5" fill="#696969"/>
<rect x="414" y="490" width="3" height="9" fill="#696969"/>
<rect x="418" y="488" width="3" height="11" fill="#696969"/>
<rect x="422" y="489" width="3" height="10" fill="#696969"/>
<rect x="426" y="492" width="3" height="7" fill="#696969"/>
<rect x="430" y="496" width="3" height="3" fill="#696969"/>
<rect x="434" y="495" width="3" height="4" fill="#696969"/>
<rect x="438" y="496" width="3" height="3" fill="#696969"/>
<rect x="442" y="498" width="3" height="1" fill="#696969"/>
<rect x="446" y="499" width="3" height="2" fill="#696969"/>
<rect x="450" y="499" width="3" height="3" fill="#696969"/>
<rect x="454" y="499" width="3" height="3" fill="#696969"/>
<rect x="458" y="499" width="3" height="2" fill="#696969"/>
<rect x="462" y="499" width="3" height="2" fill="#696969"/>
<rect x="466" y="498" width="3" height="1" fill="#696969"/>
<rect x="470" y="496" width="3" height="3" fill="#696969"/>
<rect x="474" y="496" width="3" height="3" fill="#696969"/>
<rect x="478" y="495" width="3" height="4" fill="#696969"/>
<rect x="482" y="495" width="3" height="4" fill="#696969"/>
<rect x="486" y="495" width="3" height="4" fill="#696969"/>
<rect x="490" y="496" width="3" height="3" fill="#696969"/>
<rect x="494" y="497" width="3" height="2" fill="#696969"/>
<rect x="498" y="495" width="3" height="4" fill="#696969"/>
<rect x="502" y="495" width="3" height="4" fill="#696969"/>
<rect x="506" y="497" width="3" height="2" fill="#696969"/>
<rect x="510" y="496" width="3" height="3" fill="#696969"/>
<rect x="514" y="497" width="3" height="2" fill="#696969"/>
<rect x="518" y="498" width="3" height="1" fill="#696969"/>
<rect x="522" y="499" width="3" height="2" fill="#696969"/>
<rect x="526" y="499" width="3" height="1" fill="#696969"/>
<rect x="530" y="499" width="3" height="2" fill="#696969"/>
<rect x="534" y="499" width="3" height="3" fill="#696969"/>
<rect x="538" y="499" width="3" height="4" fill="#696969"/>
<rect x="542" y="499" width="3" height="5" fill="#696969"/>
<rect x="546" y="499" width="3" height="6" fill="#696969"/>
<rect x="550" y="499" width="3" height="6" fill="#696969"/>
<rect x="554" y="499" width="3" height="6" fill="#696969"/>
<rect x="558" y="499" width="3" height="6" fill="#696969"/>
<rect x="562" y="499" width="3" height="5" fill="#696969"/>
<rect x="566" y="499" width="3" height="6" fill="#696969"/>
<rect x="570" y="499" width="3" height="5" fill="#696969"/>
<rect x="574" y="499" width="3" height="4" fill="#696969"/>
<rect x="578" y="499" width="3" height="3" fill="#696969"/>
<rect x="582" y="499" width="3" height="3" fill="#696969"/>
<rect x="586" y="499" width="3" height="6" fill="#696969"/>
<rect x="590" y="499" width="3" height="4" fill="#696969"/>
<rect x="594" y="499" width="3" height="9" fill="#696969"/>
<rect x="598" y="499" width="3" height="11" fill="#696969"/>
<rect x="602" y="499" width="3" height="12" fill="#696969"/>
<rect x="606" y="499" width="3" height="13" fill="#696969"/>
<rect x="610" y="499" width="3" height="12" fill="#696969"/>
<rect x="614" y="499" width="3" height="31" fill="#696969"/>
<rect x="618" y="499" width="3" height="48" fill="#696969"/>
<rect x="622" y="499" width="3" height="58" fill="#696969"/>
<rect x="626" y="499" width="3" height="66" fill="#696969"/>
<rect x="630" y="499" width="3" height="71" fill="#696969"/>
<rect x="634" y="499" width="3" height="74" fill="#696969"/>
<rect x="638" y="499" width="3" height="77" fill="#696969"/>
<rect x="642" y="499" width="3" height="78" fill="#696969"/>
<rect x="646" y="499" width="3" height="77" fill="#696969"/>
<rect x="650" y="499" width="3" height="75" fill="#696969"/>
<rect x="654" y="499" width="3" height="74" fill="#696969"/>
<rect x="658" y="499" width="3" height="73" fill="#696969"/>
<rect x="662" y="499" width="3" height="71" fill="#696969"/>
<rect x="666" y="499" width="3" height="67" fill="#696969"/>
<rect x="670" y="499" width="3" height="59" fill="#696969"/>
<rect x="674" y="499" width="3" height="55" fill="#696969"/>
<rect x="678" y="499" width="3" height="52" fill="#696969"/>
<rect x="682" y="499" width="3" height="47" fill="#696969"/>
<rect x="686" y="499" width="3" height="45" fill="#696969"/>
<rect x="690" y="499" width="3" height="43" fill="#696969"/>
<rect x="694" y="499" width="3" height="38" fill="#696969"/>
<rect x="698" y="499" width="3" height="36" fill="#696969"/>
<rect x="702" y="499" width="3" height="39" fill="#696969"/>
<rect x="706" y="499" width="3" height="39" fill="#696969"/>
<rect x="710" y="499" width="3" height="46" fill="#696969"/>
<rect x="714" y="499" width="3" height="53" fill="#696969"/>
<rect x="718" y="499" width="3" height="55" fill="#696969"/>
<rect x="722" y="499" width="3" height="58" fill="#696969"/>
<rect x="726" y="499" width="3" height="58" fill="#696969"/>
<rect x="730" y="499" width="3" height="60" fill="#696969"/>
<rect x="734" y="499" width="3" height="60" fill="#696969"/>
<path d="M3 493h1v1h-1zM4 493h1v1h-1zM5 493h1v1h-1zM9 493h1v1h-1zM10 492h1v1h-1zM11 492h1v1h-1zM15 492h1v1h-1zM16 492h1v1h-1zM17 492h1v1h-1zM21 492h1v1h-1zM22 492h1v1h-1zM23 492h1v1h-1zM27 491h1v1h-1zM28 491h1v1h-1zM29 491h1v1h-1zM33 490h1v1h-1zM34 489h1v1h-1zM35 489h1v1h-1zM39 489h1v1h-1zM40 489h1v1h-1zM41 489h1v1h-1zM45 488h1v1h-1zM46 487h1v1h-1zM47 487h1v1h-1zM51 486h1v1h-1zM52 486h1v1h-1zM53 485h1v1h-1zM57 484h1v1h-1zM58 483h1v1h-1zM59 483h1v1h-1zM63 481h1v1h-1zM64 481h1v1h-1zM65 480h1v1h-1zM69 478h1v1h-1zM70 478h1v1h-1zM71 477h1v1h-1zM75 475h1v1h-1zM76 475h1v1h-1zM77 474h1v1h-1zM81 472h1v1h-1zM82 472h1v1h-1zM83 471h1v1h-1zM87 471h1v1h-1zM88 471h1v1h-1zM89 471h1v1h-1zM93 471h1v1h-1zM94 472h1v1h-1zM95 472h1v1h-1zM99 473h1v1h-1zM100 473h1v1h-1zM101 473h1v1h-1zM105 474h1v1h-1zM106 475h1v1h-1zM107 475h1v1h-1zM111 476h1v1h-1zM112 476h1v1h-1zM113 476h1v1h-1zM117 477h1v1h-1zM118 477h1v1h-1zM119 478h1v1h-1zM123 481h1v1h-1zM124 482h1v1h-1zM125 483h1v1h-1zM129 487h1v1h-1zM130 488h1v1h-1zM131 489h1v1h-1zM135 493h1v1h-1zM136 494h1v1h-1zM137 495h1v1h-1zM141 499h1v1h-1zM141 500h1v1h-1zM142 501h1v1h-1zM146 505h1v1h-1zM147 506h1v1h-1zM148 507h1v1h-1zM152 511h1v1h-1zM153 511h1v1h-1zM154 512h1v1h-1zM158 514h1v1h-1zM159 515h1v1h-1zM160 515h1v1h-1zM164 516h1v1h-1zM165 516h1v1h-1zM166 517h1v1h-1zM170 518h1v1h-1zM171 518h1v1h-1zM172 518h1v1h-1zM176 518h1v1h-1zM177 518h1v1h-1zM178 519h1v1h-1zM182 519h1v1h-1zM183 519h1v1h-1zM184 519h1v1h-1zM188 519h1v1h-1zM189 519h1v1h-1zM190 519h1v1h-1zM194 519h1v1h-1zM195 519h1v1h-1zM196 519h1v1h-1zM200 518h1v1h-1zM201 518h1v1h-1zM202 517h1v1h-1zM206 516h1v1h-1zM207 516h1v1h-1zM208 516h1v1h-1zM212 514h1v1h-1zM213 514h1v1h-1zM214 513h1v1h-1zM218 512h1v1h-1zM219 512h1v1h-1zM220 512h1v1h-1zM224 513h1v1h-1zM225 513h1v1h-1zM226 514h1v1h-1zM230 515h1v1h-1zM231 515h1v1h-1zM232 515h1v1h-1zM236 517h1v1h-1zM237 517h1v1h-1zM238 516h1v1h-1zM242 515h1v1h-1zM243 515h1v1h-1zM244 515h1v1h-1zM248 513h1v1h-1zM249 512h1v1h-1zM250 512h1v1h-1zM254 510h1v1h-1zM255 509h1v1h-1zM256 509h1v1h-1zM260 507h1v1h-1zM261 507h1v1h-1zM262 506h1v1h-1zM266 506h1v1h-1zM267 506h1v1h-1zM268 506h1v1h-1zM272 507h1v1h-1zM273 507h1v1h-1zM274 508h1v1h-1zM278 509h1v1h-1zM279 509h1v1h-1zM280 509h1v1h-1zM284 509h1v1h-1zM285 509h1v1h-1zM286 508h1v1h-1zM290 507h1v1h-1zM291 507h1v1h-1zM292 507h1v1h-1zM296 506h1v1h-1zM297 506h1v1h-1zM298 505h1v1h-1zM302 505h1v1h-1zM303 505h1v1h-1zM304 505h1v1h-1zM308 505h1v1h-1zM309 505h1v1h-1zM310 505h1v1h-1zM314 506h1v1h-1zM315 506h1v1h-1zM316 506h1v1h-1zM320 508h1v1h-1zM321 509h1v1h-1zM322 509h1v1h-1zM326 511h1v1h-1zM327 512h1v1h-1zM328 512h1v1h-1zM332 514h1v1h-1zM333 515h1v1h-1zM334 515h1v1h-1zM338 517h1v1h-1zM339 517h1v1h-1zM340 517h1v1h-1zM344 517h1v1h-1zM345 517h1v1h-1zM346 517h1v1h-1zM350 517h1v1h-1zM351 517h1v1h-1zM352 517h1v1h-1zM356 516h1v1h-1zM357 515h1v1h-1zM358 515h1v1h-1zM362 513h1v1h-1zM363 513h1v1h-1zM364 513h1v1h-1zM368 512h1v1h-1zM369 512h1v1h-1zM370 511h1v1h-1zM374 510h1v1h-1zM375 510h1v1h-1zM376 510h1v1h-1zM380 509h1v1h-1zM381 509h1v1h-1zM382 508h1v1h-1zM386 507h1v1h-1zM387 506h1v1h-1zM388 506h1v1h-1zM392 506h1v1h-1zM393 506h1v1h-1zM394 505h1v1h-1zM398 505h1v1h-1zM399 505h1v1h-1zM400 505h1v1h-1zM404 504h1v1h-1zM405 503h1v1h-1zM406 503h1v1h-1zM410 501h1v1h-1zM411 500h1v1h-1zM412 500h1v1h-1zM416 497h1v1h-1zM417 497h1v1h-1zM418 496h1v1h-1zM422 493h1v1h-1zM423 492h1v1h-1zM424 492h1v1h-1zM428 491h1v1h-1zM429 491h1v1h-1zM430 491h1v1h-1zM434 492h1v1h-1zM435 492h1v1h-1zM436 492h1v1h-1zM440 494h1v1h-1zM441 494h1v1h-1zM442 495h1v1h-1zM446 496h1v1h-1zM447 496h1v1h-1zM448 496h1v1h-1zM452 498h1v1h-1zM453 498h1v1h-1zM454 499h1v1h-1zM458 499h1v1h-1zM459 499h1v1h-1zM460 499h1v1h-1zM464 500h1v1h-1zM465 500h1v1h-1zM466 500h1v1h-1zM470 499h1v1h-1zM471 499h1v1h-1zM472 499h1v1h-1zM476 498h1v1h-1zM477 498h1v1h-1zM478 498h1v1h-1zM482 497h1v1h-1zM483 497h1v1h-1zM484 497h1v1h-1zM488 495h1v1h-1zM489 495h1v1h-1zM490 495h1v1h-1zM494 496h1v1h-1zM495 496h1v1h-1zM496 496h1v1h-1zM500 496h1v1h-1zM501 496h1v1h-1zM502 496h1v1h-1zM506 496h1v1h-1zM507 496h1v1h-1zM508 496h1v1h-1zM512 496h1v1h-1zM513 496h1v1h-1zM514 496h1v1h-1zM518 497h1v1h-1zM519 497h1v1h-1zM520 497h1v1h-1zM524 498h1v1h-1zM525 498h1v1h-1zM526 498h1v1h-1zM530 499h1v1h-1zM531 499h1v1h-1zM532 499h1v1h-1zM536 500h1v1h-1zM537 500h1v1h-1zM538 501h1v1h-1zM542 502h1v1h-1zM543 502h1v1h-1zM544 502h1v1h-1zM548 502h1v1h-1zM549 502h1v1h-1zM550 503h1v1h-1zM554 504h1v1h-1zM555 504h1v1h-1zM556 504h1v1h-1zM560 504h1v1h-1zM561 504h1v1h-1zM562 504h1v1h-1zM566 504h1v1h-1zM567 504h1v1h-1zM568 504h1v1h-1zM572 503h1v1h-1zM573 503h1v1h-1zM574 502h1v1h-1zM578 502h1v1h-1zM579 502h1v1h-1zM580 502h1v1h-1zM584 501h1v1h-1zM585 501h1v1h-1zM586 502h1v1h-1zM590 503h1v1h-1zM591 503h1v1h-1zM592 503h1v1h-1zM596 504h1v1h-1zM597 505h1v1h-1zM598 505h1v1h-1zM602 507h1v1h-1zM603 507h1v1h-1zM604 507h1v1h-1zM608 508h1v1h-1zM609 509h1v1h-1zM610 509h1v1h-1zM614 512h1v1h-1zM615 513h1v1h-1zM615 514h1v1h-1zM617 518h1v1h-1zM618 519h1v1h-1zM618 520h1v1h-1zM620 524h1v1h-1zM621 525h1v1h-1zM621 526h1v1h-1zM623 530h1v1h-1zM623 531h1v1h-1zM624 532h1v1h-1zM625 536h1v1h-1zM626 537h1v1h-1zM626 538h1v1h-1zM627 542h1v1h-1zM628 543h1v1h-1zM628 544h1v1h-1zM630 548h1v1h-1zM630 549h1v1h-1zM631 550h1v1h-1zM632 554h1v1h-1zM633 555h1v1h-1zM633 556h1v1h-1zM635 560h1v1h-1zM636 561h1v1h-1zM636 562h1v1h-1zM638 566h1v1h-1zM639 567h1v1h-1zM640 568h1v1h-1zM644 571h1v1h-1zM645 572h1v1h-1zM646 572h1v1h-1zM650 574h1v1h-1zM651 574h1v1h-1zM652 574h1v1h-1zM656 574h1v1h-1zM657 573h1v1h-1zM658 573h1v1h-1zM662 571h1v1h-1zM663 571h1v1h-1zM664 570h1v1h-1zM668 567h1v1h-1zM669 566h1v1h-1zM670 565h1v1h-1zM674 562h1v1h-1zM675 561h1v1h-1zM676 560h1v1h-1zM680 557h1v1h-1zM681 556h1v1h-1zM682 555h1v1h-1zM686 551h1v1h-1zM687 550h1v1h-1zM688 549h1v1h-1zM692 545h1v1h-1zM693 544h1v1h-1zM694 543h1v1h-1zM698 541h1v1h-1zM699 540h1v1h-1zM700 540h1v1h-1zM704 538h1v1h-1zM705 538h1v1h-1zM706 537h1v1h-1zM710 538h1v1h-1zM711 538h1v1h-1zM712 539h1v1h-1zM716 542h1v1h-1zM717 542h1v1h-1zM718 543h1v1h-1zM722 547h1v1h-1zM723 548h1v1h-1zM724 549h1v1h-1zM728 552h1v1h-1zM729 552h1v1h-1zM730 553h1v1h-1zM734 555h1v1h-1zM735 556h1v1h-1z" fill="#FF0000"/>
<g font-family='"Liberation Sans", sans-serif' font-size="9.33" stroke-width="0.15" text-rendering="geometricPrecision">
<rect x="761" y="31" width="2" height="1" fill="#000"/>
<text x="766.2" y="34" fill="#000" stroke="#000" font-size="9.1">1.1505</text>
<rect x="761" y="66" width="2" height="1" fill="#000"/>
<text x="766.2" y="69" fill="#000" stroke="#000" font-size="9.1">1.1460</text>
<rect x="761" y="102" width="2" height="1" fill="#000"/>
<text x="766.2" y="105" fill="#000" stroke="#000" font-size="9.1">1.1415</text>
<rect x="761" y="137" width="2" height="1" fill="#000"/>
<text x="766.2" y="140" fill="#000" stroke="#000" font-size="9.1">1.1370</text>
<rect x="761" y="173" width="2" height="1" fill="#000"/>
<text x="766.2" y="176" fill="#000" stroke="#000" font-size="9.1">1.1325</text>
<rect x="761" y="208" width="2" height="1" fill="#000"/>
<text x="766.2" y="211" fill="#000" stroke="#000" font-size="9.1">1.1280</text>
<rect x="761" y="243" width="2" height="1" fill="#000"/>
<text x="766.2" y="246" fill="#000" stroke="#000" font-size="9.1">1.1235</text>
<rect x="761" y="279" width="2" height="1" fill="#000"/>
<text x="766.2" y="282" fill="#000" stroke="#000" font-size="9.1">1.1190</text>
<rect x="761" y="314" width="2" height="1" fill="#000"/>
<text x="766.2" y="317" fill="#000" stroke="#000" font-size="9.1">1.1145</text>
<rect x="761" y="349" width="2" height="1" fill="#000"/>
<text x="766.2" y="352" fill="#000" stroke="#000" font-size="9.1">1.1100</text>
<rect x="761" y="385" width="2" height="1" fill="#000"/>
<text x="766.2" y="388" fill="#000" stroke="#000" font-size="9.1">1.1055</text>
<rect x="761" y="420" width="2" height="1" fill="#000"/>
<text x="766.2" y="423" fill="#000" stroke="#000" font-size="9.1">1.1010</text>
<rect x="761" y="456" width="2" height="1" fill="#000"/>
<text x="766.2" y="459" fill="#000" stroke="#000" font-size="9.1">1.0965</text>
<rect x="761" y="464" width="1" height="1" fill="#000"/>
<text x="764.3" y="473" fill="#000" stroke="#000">0.00622</text>
<rect x="761" y="499" width="2" height="1" fill="#000"/>
<text x="764.3" y="502" fill="#000" stroke="#000">0.00</text>
<rect x="761" y="581" width="1" height="1" fill="#000"/>
<text x="764.3" y="579" fill="#000" stroke="#000">-0.01427</text>
<rect x="762" y="33" width="36" height="11" fill="#FF0000"/>
<text x="766.7" y="42" fill="#fff" stroke="#fff" font-size="9.1">1.1495</text>
<rect x="762" y="107" width="36" height="11" fill="#FF0000"/>
<text x="766.7" y="116" fill="#fff" stroke="#fff" font-size="9.1">1.1400</text>
<rect x="762" y="183" width="36" height="11" fill="#FF0000"/>
<text x="766.7" y="192" fill="#fff" stroke="#fff" font-size="9.1">1.1304</text>
<rect x="762" y="214" width="36" height="11" fill="#FF0000"/>
<text x="766.7" y="223" fill="#fff" stroke="#fff" font-size="9.1">1.1264</text>
<rect x="762" y="265" width="36" height="11" fill="#FF0000"/>
<text x="766.7" y="274" fill="#fff" stroke="#fff" font-size="9.1">1.1200</text>
<rect x="762" y="312" width="36" height="11" fill="#FF0000"/>
<text x="766.7" y="321" fill="#fff" stroke="#fff" font-size="9.1">1.1140</text>
<rect x="762" y="367" width="36" height="11" fill="#FF0000"/>
<text x="766.7" y="376" fill="#fff" stroke="#fff" font-size="9.1">1.1071</text>
<rect x="762" y="453" width="36" height="11" fill="#FF0000"/>
<text x="766.7" y="462" fill="#fff" stroke="#fff" font-size="9.1">1.0960</text>
<rect x="762" y="420" width="36" height="11" fill="#000"/>
<text x="766.7" y="429" fill="#fff" stroke="#fff" font-size="9.1">1.1003</text>
<path d="M6 9h7l-3.5 4z" fill="#000" shape-rendering="crispEdges"/>
<text x="18.5" y="14" fill="#000" stroke="#000">EURUSD,H1&#160;&#160;1.0999 1.1008 1.0997 1.1003</text>
<text x="7.5" y="475" fill="#000" stroke="#000">MACD(5,34,5) -0.01014 -0.00986</text>
<rect x="3" y="583" width="1" height="3" fill="#000"/>
<text x="3" y="595" fill="#000" stroke="#000">14 Oct 2015</text>
<rect x="67" y="583" width="1" height="3" fill="#000"/>
<text x="67" y="595" fill="#000" stroke="#000">14 Oct 20:00</text>
<rect x="131" y="583" width="1" height="3" fill="#000"/>
<text x="131" y="595" fill="#000" stroke="#000">15 Oct 12:00</text>
<rect x="195" y="583" width="1" height="3" fill="#000"/>
<text x="195" y="595" fill="#000" stroke="#000">16 Oct 04:00</text>
<rect x="259" y="583" width="1" height="3" fill="#000"/>
<text x="259" y="595" fill="#000" stroke="#000">16 Oct 20:00</text>
<rect x="323" y="583" width="1" height="3" fill="#000"/>
<text x="323" y="595" fill="#000" stroke="#000">19 Oct 13:00</text>
<rect x="387" y="583" width="1" height="3" fill="#000"/>
<text x="387" y="595" fill="#000" stroke="#000">20 Oct 05:00</text>
<rect x="451" y="583" width="1" height="3" fill="#000"/>
<text x="451" y="595" fill="#000" stroke="#000">20 Oct 21:00</text>
<rect x="515" y="583" width="1" height="3" fill="#000"/>
<text x="515" y="595" fill="#000" stroke="#000">21 Oct 13:00</text>
<rect x="579" y="583" width="1" height="3" fill="#000"/>
<text x="579" y="595" fill="#000" stroke="#000">22 Oct 05:00</text>
<rect x="643" y="583" width="1" height="3" fill="#000"/>
<text x="643" y="595" fill="#000" stroke="#000">22 Oct 21:00</text>
<rect x="707" y="583" width="1" height="3" fill="#000"/>
<text x="707" y="595" fill="#000" stroke="#000">23 Oct 13:00</text>
</g>
</svg>
</body></html>
